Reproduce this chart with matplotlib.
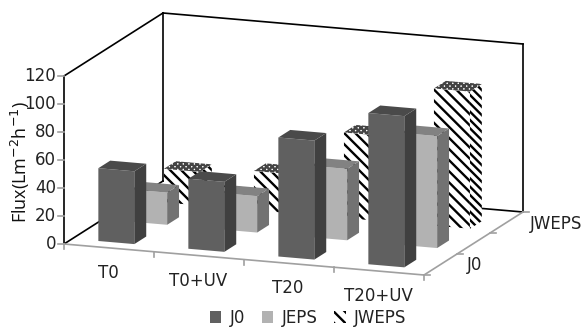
import matplotlib

matplotlib.use("Agg")
from matplotlib import pyplot as plt
from matplotlib.patches import Patch, Polygon

categories = ["T0", "T0+UV", "T20", "T20+UV"]
y_ticks = [0, 20, 40, 60, 80, 100, 120]
series_names = ["J0", "JEPS", "JWEPS"]
j0 = [52, 50, 85, 108]
jeps = [23, 26, 51, 80]
jweps = [24, 28, 61, 98]

# oblique projection of the Excel 3-D chart, in image pixels
ORIGIN = (64, 244)
X_VEC = (90, 7.75)
DEPTH_VEC = (33, -21)
ROW_VEC = (32.8, -19.3)
PX_PER_UNIT = 1.4
GRAY = "#a0a0a0"


def project(x, d, v=0):
    return (
        ORIGIN[0] + x * X_VEC[0] + d * DEPTH_VEC[0],
        ORIGIN[1] + x * X_VEC[1] + d * DEPTH_VEC[1] - v * PX_PER_UNIT,
    )


def bar_point(x, row, d, v):
    # rows sit a bit closer together than the floor depth units
    px, py = project(x, 0.25 + d, v)
    return px + row * ROW_VEC[0], py + row * ROW_VEC[1]


def draw_bar(ax, cat, row, value, styles):
    x0, x1 = cat + 0.29, cat + 0.69
    d0, d1 = 0.0, 0.36
    faces = {
        "front": [(x0, d0, 0), (x1, d0, 0), (x1, d0, value), (x0, d0, value)],
        "side": [(x1, d0, 0), (x1, d1, 0), (x1, d1, value), (x1, d0, value)],
        "top": [(x0, d0, value), (x1, d0, value), (x1, d1, value), (x0, d1, value)],
    }
    for name, corners in faces.items():
        pts = [bar_point(x, row, d, v) for x, d, v in corners]
        ax.add_patch(Polygon(pts, closed=True, linewidth=0, zorder=5 - row, **styles[name]))


def line(ax, a, b, color="black", lw=1.2, zorder=1):
    ax.plot([a[0], b[0]], [a[1], b[1]], color=color, lw=lw, zorder=zorder, solid_capstyle="projecting")


plt.rcParams["hatch.linewidth"] = 1.7
fig = plt.figure(figsize=(5.88, 3.27), dpi=100)
ax = fig.add_axes([0, 0, 1, 1])
ax.set_xlim(0, 588)
ax.set_ylim(327, 0)
ax.axis("off")

n_cat = len(categories)
n_row = len(series_names)
top = max(y_ticks)

# walls
line(ax, project(0, 0), project(0, 0, top))
line(ax, project(0, 0, top), project(0, n_row, top))
line(ax, project(0, n_row, top), project(n_cat, n_row, top))
line(ax, project(n_cat, n_row, top), project(n_cat, n_row))
line(ax, project(0, n_row, top), project(0, n_row))
line(ax, project(0, n_row), project(n_cat, n_row))
line(ax, project(0, 0), project(0, n_row))

# floor edges and ticks
line(ax, project(0, 0), project(n_cat, 0), color=GRAY)
line(ax, project(n_cat, 0), project(n_cat, n_row), color=GRAY)
for i in range(n_cat + 1):
    px, py = project(i, 0)
    line(ax, (px, py), (px, py + 5), color=GRAY)
for i in range(n_row + 1):
    px, py = project(n_cat, i)
    line(ax, (px, py), (px + 6, py), color=GRAY)
for v in y_ticks:
    px, py = project(0, 0, v)
    line(ax, (px - 6, py), (px, py), color=GRAY)
    ax.text(px - 8, py, str(v), ha="right", va="center", fontsize=12, color="#222222")

# bars, back row first
solid_j0 = {
    "front": {"facecolor": "#606060"},
    "side": {"facecolor": "#404040"},
    "top": {"facecolor": "#4a4a4a"},
}
solid_jeps = {
    "front": {"facecolor": "#b2b2b2"},
    "side": {"facecolor": "#727272"},
    "top": {"facecolor": "#828282"},
}
hatched = {
    "front": {"facecolor": "white", "edgecolor": "black", "hatch": "\\\\\\"},
    "side": {"facecolor": "white", "edgecolor": "black", "hatch": "\\\\\\\\"},
    "top": {"facecolor": "white", "edgecolor": "#444444", "hatch": "xxxxxx"},
}
rows = [(2, jweps, hatched), (1, jeps, solid_jeps), (0, j0, solid_j0)]
for row, values, styles in rows:
    for cat, value in enumerate(values):
        draw_bar(ax, cat, row, value, styles)

# category labels hang below the floor edge
for i, name in enumerate(categories):
    px, py = project(i + 0.5, 0)
    ax.text(px - 1, py + 25, name, ha="center", va="center", fontsize=12, color="#222222")
ax.text(467, 265, "J0", ha="left", va="center", fontsize=12, color="#222222")
ax.text(530, 224, "JWEPS", ha="left", va="center", fontsize=12, color="#222222")

ax.text(
    20,
    162,
    "Flux(Lm$^{-2}$h$^{-1}$)",
    rotation=90,
    ha="center",
    va="center",
    fontsize=13,
    family="Open Sans",
    color="#111111",
)

handles = [
    Patch(facecolor="#606060", label=series_names[0]),
    Patch(facecolor="#b2b2b2", label=series_names[1]),
    Patch(facecolor="white", edgecolor="black", linewidth=0, hatch="\\\\\\", label=series_names[2]),
]
ax.legend(
    handles=handles,
    ncol=3,
    loc="center",
    bbox_to_anchor=(308 / 588, 1 - 318 / 327),
    frameon=False,
    fontsize=12,
    handlelength=0.7,
    handleheight=0.7,
    handletextpad=0.5,
    columnspacing=1.0,
    labelcolor="#222222",
)

fig.savefig("out.png", dpi=100)
plt.close(fig)
